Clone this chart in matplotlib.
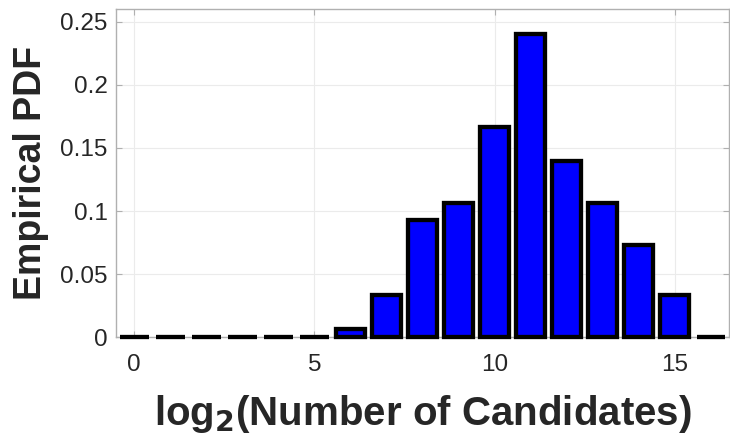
import numpy as np
import matplotlib
matplotlib.use("Agg")
import matplotlib.pyplot as plt

# log2 of candidate count and the empirical probability of each bin
bins = np.arange(0, 17)
pdf = [0.0, 0.0, 0.0, 0.0, 0.0, 0.0, 0.0067, 0.0333, 0.0933, 0.1067,
       0.1667, 0.24, 0.14, 0.1067, 0.0733, 0.0333, 0.0]
xticks = [0, 5, 10, 15]
yticks = [0, 0.05, 0.1, 0.15, 0.2, 0.25]
ytick_labels = ["0", "0.05", "0.1", "0.15", "0.2", "0.25"]

plt.rcParams["font.family"] = ["Liberation Sans", "DejaVu Sans"]
text_color = "#262626"
frame_color = "#b0b0b0"

fig = plt.figure(figsize=(7.3, 4.4), dpi=100)
ax = fig.add_axes([0.159, 0.2334, 0.8396, 0.7461])

ax.bar(bins, pdf, width=0.8, color="#0000ff", edgecolor="black",
       linewidth=3.1, clip_on=False, zorder=3)

ax.set_xlim(-0.5, 16.5)
ax.set_ylim(0, 0.26)
ax.set_xticks(xticks)
ax.set_yticks(yticks)
ax.set_yticklabels(ytick_labels)

ax.grid(True, color="#ebebeb", linewidth=0.8, zorder=0)
ax.set_axisbelow(True)
for side in ["top", "bottom", "left", "right"]:
    ax.spines[side].set_color(frame_color)
    ax.spines[side].set_linewidth(1.0)

ax.tick_params(direction="in", length=4.5, width=0.8, color=frame_color,
               top=True, right=True, labelsize=17.5, labelcolor=text_color)
ax.tick_params(axis="x", pad=12)
ax.tick_params(axis="y", pad=6)

ax.set_xlabel("log$_\\mathbf{2}$(Number of Candidates)", fontsize=29,
              fontweight="bold", color=text_color, labelpad=12)
ax.set_ylabel("Empirical PDF", fontsize=27, fontweight="bold",
              color=text_color, labelpad=8)

fig.savefig("out.png", dpi=100)
